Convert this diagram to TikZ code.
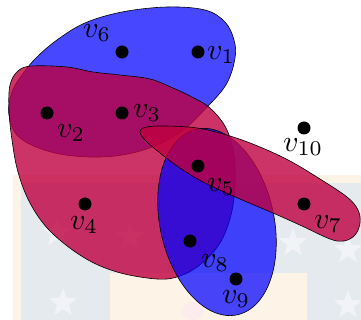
\documentclass[tikz,border=0pt]{standalone}
\usetikzlibrary{shapes.geometric}
\definecolor{bgcream}{RGB}{253,244,231}
\definecolor{bggray}{RGB}{229,234,239}
\definecolor{bgstar}{RGB}{241,243,246}
\definecolor{bgpink}{RGB}{253,236,238}
\begin{document}
\begin{tikzpicture}[x=1pt,y=-1pt,
  hyperblue/.style={fill=blue, fill opacity=0.72, draw=black, line width=0.6pt},
  hyperred/.style={fill=purple, fill opacity=0.8, draw=black, line width=0.6pt},
  vertex/.style={circle, fill=black, inner sep=0pt, minimum size=13pt},
  vlabel/.style={inner sep=0pt, scale=3},
  bgstarshape/.style={star, star points=5, star point ratio=2.4, fill=bgstar, draw=none, inner sep=0pt, minimum size=30pt}]
\useasboundingbox (0,0) rectangle (361,320);
% faint background
\fill[bgcream] (13,175) rectangle (361,320);
\fill[bggray] (21,183) rectangle (361,320);
\fill[bgcream] (110,273) rectangle (307,320);
\fill[bgpink] (193,311) ellipse [x radius=11pt, y radius=9pt];
\node[bgstarshape] (s1) at (57,233) {};
\node[bgstarshape] (s2) at (63,303) {};
\node[bgstarshape] (s3) at (130,237) {};
\node[bgstarshape] (s4) at (293,243) {};
\node[bgstarshape] (s5) at (348,250) {};
\node[bgstarshape] (s6) at (348,305) {};
% hyperedges
\draw[hyperblue] plot[smooth cycle, tension=0.6] coordinates {
  (9,115) (12,92) (22,75) (36,58) (57,40) (85,23) (122,12) (167,7) (205,10)
  (225,22) (234,40) (235,58) (227,83) (209,105) (178,134) (140,151) (100,157)
  (55,153) (20,138)};
\draw[hyperred] plot[smooth cycle, tension=0.6] coordinates {
  (18,71) (32,66) (67,67) (93,72) (120,75) (150,79) (173,88) (192,97) (210,108)
  (226,128) (234,155) (235,185) (231,215) (220,243) (201,264) (180,276) (157,279)
  (117,272) (83,257) (50,231) (30,203) (18,172) (12,140) (9,110) (10,85)};
\draw[hyperblue] plot[domain=0:360, samples=90, smooth cycle, variable=\t]
  ({217 + 57*0.977*cos(\t) + 95*0.214*sin(\t)}, {222 - 57*0.214*cos(\t) + 95*0.977*sin(\t)});
\draw[hyperred] plot[smooth cycle, tension=0.6] coordinates {
  (140,131) (147,127) (165,126) (197,128) (230,136) (260,147) (290,161) (320,179)
  (347,197) (358,210) (360,223) (355,235) (344,241) (330,239) (302,226) (273,213)
  (240,199) (205,183) (180,168) (160,153) (145,140)};
% vertices
\node[vertex] (v1) at (198,52) {};
\node[vertex] (v6) at (122,52) {};
\node[vertex] (v2) at (47,113) {};
\node[vertex] (v3) at (122,113) {};
\node[vertex] (v10) at (304,128) {};
\node[vertex] (v5) at (198,166) {};
\node[vertex] (v7) at (304,204) {};
\node[vertex] (v4) at (85,204) {};
\node[vertex] (v8) at (190,241) {};
\node[vertex] (v9) at (236,279) {};
% labels
\node[vlabel] (l1) at (221,55) {$v_1$};
\node[vlabel] (l6) at (97,33) {$v_6$};
\node[vlabel] (l2) at (71,133) {$v_2$};
\node[vlabel] (l3) at (147,113) {$v_3$};
\node[vlabel] (l10) at (303,147) {$v_{10}$};
\node[vlabel] (l5) at (221,187) {$v_5$};
\node[vlabel] (l7) at (328,224) {$v_7$};
\node[vlabel] (l4) at (84,225) {$v_4$};
\node[vlabel] (l8) at (215,263) {$v_8$};
\node[vlabel] (l9) at (236,299) {$v_9$};
\end{tikzpicture}
\end{document}
